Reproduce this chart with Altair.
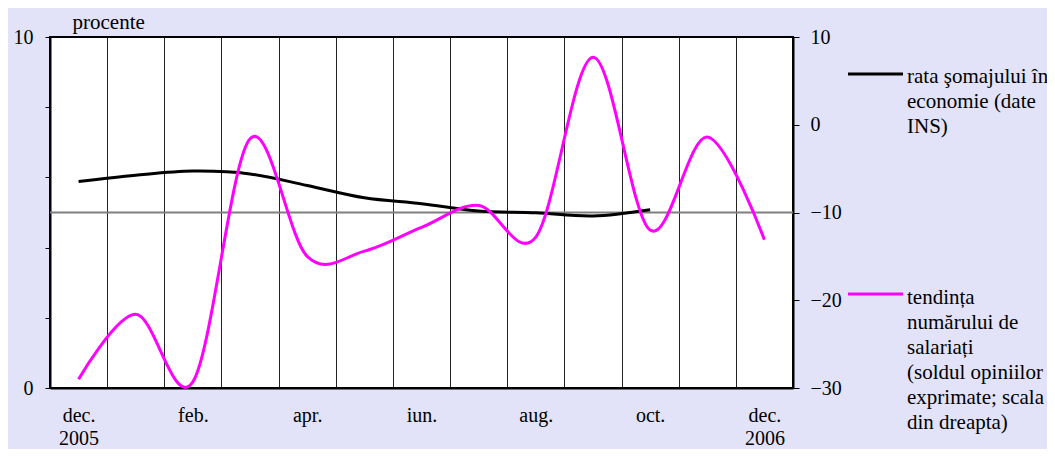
import json
import altair as alt
import pandas as pd

# ---- data ----
months = ["dec.", "ian.", "feb.", "mar.", "apr.", "mai", "iun.", "iul.",
          "aug.", "sep.", "oct.", "nov.", "dec."]
years = ["2005", "", "", "", "", "", "", "", "", "", "", "", "2006"]
unemployment = [5.88, 6.06, 6.18, 6.10, 5.77, 5.42, 5.25, 5.04, 4.99, 4.90, 5.08]
employment_trend = [-29.0, -21.6, -29.3, -1.6, -15.0, -14.4, -11.7, -9.2,
                    -12.8, 7.7, -12.0, -1.4, -13.1]
left_ticks = [0, 1, 2, 3, 4, 5, 6, 7, 8, 9, 10]
right_ticks = [-30, -20, -10, 0, 10]
legend_u = "rata şomajului în\neconomie (date\nINS)"
legend_t = "tendința\nnumărului de\nsalariați\n(soldul opiniilor\nexprimate; scala\ndin dreapta)"

FONT = "Times New Roman"
BLACK_LINE = "#000000"
MAGENTA = "#ff00ff"
BG = "#e2e3f8"

df_u = pd.DataFrame({"i": list(range(len(unemployment))), "v": unemployment})
df_t = pd.DataFrame({"i": list(range(len(employment_trend))), "v": employment_trend})
one = pd.DataFrame({"a": [0]})

n = len(months)
x_vals = [k * 0.5 - 0.5 for k in range(2 * n + 1)]
label_expr = (
    "datum.value % 2 == 0 ? [" + json.dumps(months) + "[datum.value], "
    + json.dumps(years) + "[datum.value]] : ''"
)
xscale = alt.Scale(domain=[-0.5, n - 0.5], nice=False, zero=False)
xaxis = alt.Axis(
    values=x_vals, title=None, labelExpr=label_expr, labelFont=FONT,
    labelFontSize=20, labelColor="black", labelBaseline="top",
    labelLineHeight=23, labelPadding=17, labelOverlap=False, labelFlush=False,
    tickSize=0, domainColor="black", domainWidth=2,
    grid=True, gridColor="#222222", gridWidth=1,
    gridOpacity={"condition": {"test": "datum.value % 1 != 0", "value": 1}, "value": 0},
)

left_axis = alt.Axis(
    values=left_ticks, labelExpr="datum.value % 5 == 0 ? datum.label : ''",
    labelFont=FONT, labelFontSize=20, labelColor="black", labelPadding=12,
    tickSize=5, tickColor="black", domainColor="black", domainWidth=2,
    grid=False, title="procente", titleAngle=0, titleAlign="left",
    titleBaseline="alphabetic", titleX=22, titleY=-9, titleFont=FONT,
    titleFontSize=21, titleFontWeight="normal", titleColor="black",
)
right_axis = alt.Axis(
    values=right_ticks, orient="right", labelFont=FONT, labelFontSize=20,
    labelColor="black", labelPadding=11, tickSize=6, tickColor="black",
    domainColor="black", domainWidth=2, grid=False, title=None,
)

rule5 = alt.Chart(one).mark_rule(color="#7f7f7f", strokeWidth=2).encode(y=alt.datum(5))
line_u = alt.Chart(df_u).mark_line(
    color=BLACK_LINE, strokeWidth=3, interpolate="cardinal"
).encode(
    x=alt.X("i:Q", scale=xscale, axis=xaxis),
    y=alt.Y("v:Q", scale=alt.Scale(domain=[0, 10], nice=False, zero=False), axis=left_axis),
)
inner = alt.layer(rule5, line_u)

line_t = alt.Chart(df_t).mark_line(
    color=MAGENTA, strokeWidth=3, interpolate="cardinal"
).encode(
    x=alt.X("i:Q", scale=xscale, axis=xaxis),
    y=alt.Y("v:Q", scale=alt.Scale(domain=[-30, 10], nice=False, zero=False), axis=right_axis),
)

leg_rule_u = alt.Chart(one).mark_rule(color=BLACK_LINE, strokeWidth=3).encode(
    x=alt.value(798), x2=alt.value(853), y=alt.value(37))
leg_rule_t = alt.Chart(one).mark_rule(color=MAGENTA, strokeWidth=3).encode(
    x=alt.value(798), x2=alt.value(853), y=alt.value(257))
leg_text_u = alt.Chart(one).mark_text(
    align="left", baseline="top", font=FONT, fontSize=21, lineBreak="\n",
    lineHeight=25, color="black",
).encode(x=alt.value(857), y=alt.value(29), text=alt.value(legend_u))
leg_text_t = alt.Chart(one).mark_text(
    align="left", baseline="top", font=FONT, fontSize=21, lineBreak="\n",
    lineHeight=25, color="black",
).encode(x=alt.value(857), y=alt.value(250), text=alt.value(legend_t))

chart = alt.layer(
    inner, line_t, leg_rule_u, leg_rule_t, leg_text_u, leg_text_t
).resolve_scale(y="independent").properties(
    width=743, height=351,
    autosize=alt.AutoSizeParams(type="none"),
    padding={"left": 42, "top": 29, "right": 254, "bottom": 61},
    background=BG,
).configure_view(fill="white", stroke="black", strokeWidth=2)

chart.save("out.html", embed_options={"renderer": "svg", "actions": False})
